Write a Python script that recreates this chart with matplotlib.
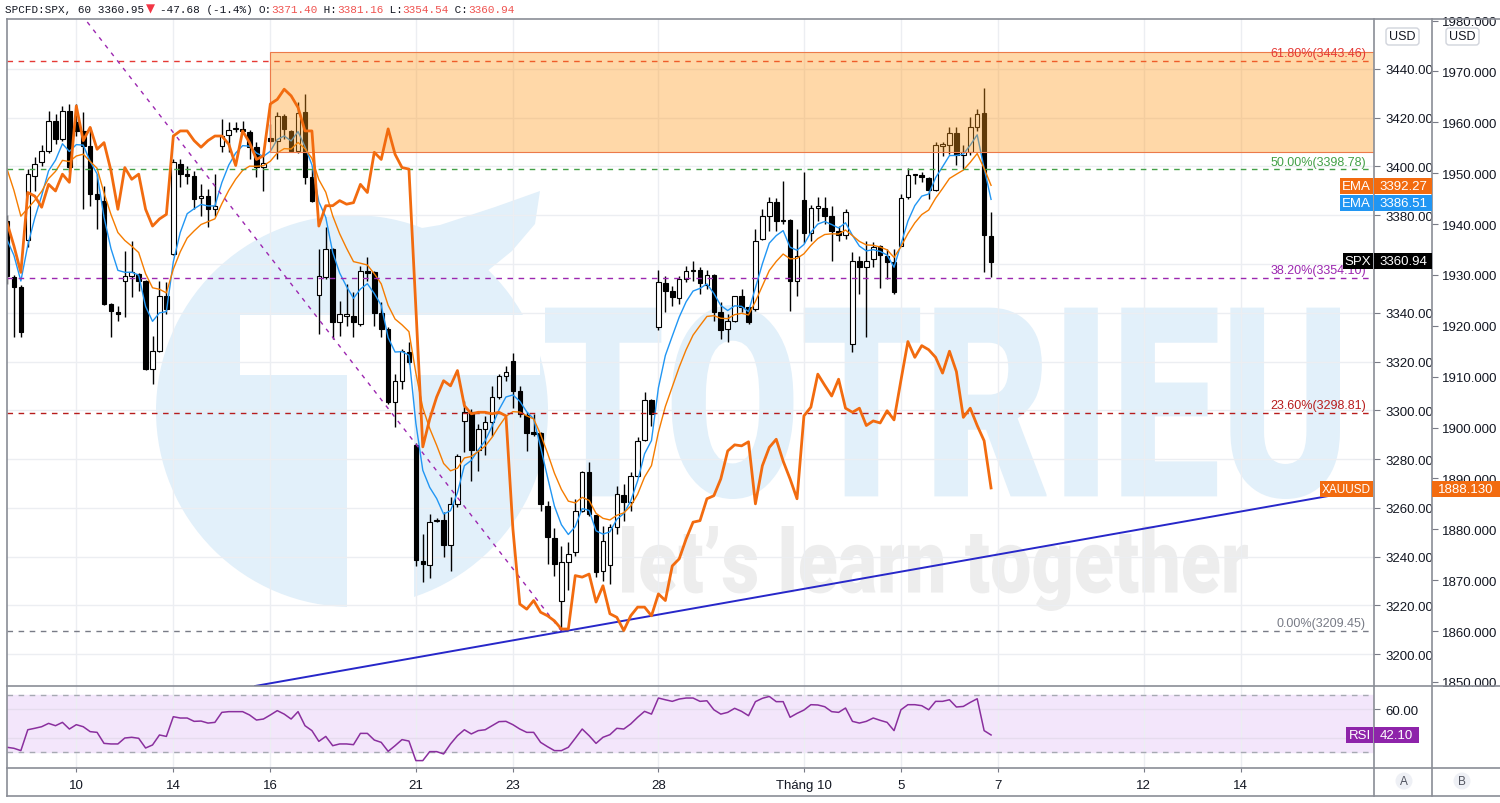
import numpy as np
import pandas as pd
import matplotlib
matplotlib.use("Agg")
import matplotlib.pyplot as plt
import matplotlib.transforms as mtransforms
from matplotlib import font_manager
from matplotlib.patches import Rectangle, Circle, Polygon, FancyBboxPatch, PathPatch
from matplotlib.lines import Line2D
from matplotlib.textpath import TextPath
from matplotlib.font_manager import FontProperties

installed = {f.name for f in font_manager.fontManager.ttflist}


def first_font(*names):
    for n in names:
        if n in installed:
            return n
    return "DejaVu Sans"


AXIS_FONT = first_font("Liberation Sans Narrow", "Liberation Sans", "Roboto")
MONO_FONT = first_font("Liberation Mono", "DejaVu Sans Mono")
plt.rcParams["font.family"] = [AXIS_FONT, "DejaVu Sans"]

# ---------------- data (SPCFD:SPX 60m, 8 Sep - 6 Oct 2020) ----------------
spx_open = [
    3377.6, 3354.7, 3350.6, 3370.0, 3396.1, 3401.8, 3406.4, 3418.7, 3411.3, 3422.8,
    3418.3, 3414.6, 3408.4, 3388.7, 3385.8, 3343.6, 3340.3, 3353.0, 3355.0, 3355.9,
    3353.0, 3316.9, 3324.3, 3346.9, 3364.1, 3401.0, 3396.9, 3396.1, 3387.0, 3388.0,
    3382.6, 3408.4, 3413.0, 3415.2, 3415.4, 3414.2, 3408.0, 3399.8, 3411.7, 3410.5,
    3420.7, 3414.6, 3406.4, 3422.4, 3395.7, 3347.3, 3354.5, 3366.2, 3336.1, 3338.8,
    3338.8, 3335.4, 3357.3, 3356.6, 3339.9, 3333.3, 3303.3, 3312.1, 3324.0, 3285.7,
    3238.3, 3236.5, 3254.5, 3255.1, 3244.7, 3261.5, 3295.7, 3299.2, 3283.8, 3292.3,
    3295.1, 3305.3, 3314.2, 3320.3, 3308.0, 3298.1, 3291.0, 3290.7, 3260.9, 3247.5,
    3221.9, 3237.9, 3241.7, 3258.8, 3274.5, 3257.0, 3234.2, 3236.5, 3252.0, 3265.4,
    3262.3, 3273.2, 3287.8, 3304.3, 3334.0, 3352.2, 3348.8, 3345.9, 3353.8, 3357.1,
    3357.7, 3351.4, 3355.5, 3340.2, 3333.3, 3336.8, 3346.7, 3342.2, 3341.5, 3370.3,
    3379.8, 3385.6, 3377.6, 3378.0, 3353.2, 3386.4, 3372.7, 3383.0, 3382.8, 3379.6,
    3373.7, 3371.9, 3327.2, 3361.4, 3358.6, 3362.1, 3367.3, 3363.4, 3360.7, 3367.5,
    3387.4, 3396.5, 3396.5, 3395.2, 3390.5, 3408.6, 3408.8, 3413.7, 3404.7, 3406.1,
    3416.1, 3421.9, 3371.40]
spx_high = [
    3380.0, 3355.5, 3351.5, 3399.0, 3404.0, 3409.0, 3422.8, 3421.5, 3424.8, 3425.6,
    3425.6, 3422.4, 3416.2, 3396.9, 3392.0, 3344.0, 3342.8, 3365.3, 3369.4, 3356.5,
    3353.5, 3330.5, 3353.0, 3352.6, 3403.0, 3403.0, 3400.2, 3398.0, 3392.8, 3390.8,
    3396.9, 3419.5, 3418.3, 3418.3, 3418.7, 3415.0, 3410.0, 3405.0, 3417.4, 3422.4,
    3421.5, 3415.0, 3426.5, 3429.7, 3399.0, 3366.2, 3375.1, 3366.5, 3344.9, 3351.8,
    3348.4, 3359.3, 3362.7, 3357.3, 3344.3, 3334.0, 3314.9, 3325.0, 3327.9, 3286.5,
    3249.2, 3257.4, 3255.7, 3258.1, 3264.3, 3282.1, 3303.9, 3300.5, 3294.4, 3297.8,
    3310.1, 3314.9, 3318.3, 3323.7, 3310.1, 3299.2, 3298.5, 3291.0, 3262.9, 3251.6,
    3244.4, 3245.8, 3263.6, 3275.2, 3278.6, 3257.2, 3252.6, 3253.3, 3269.0, 3269.7,
    3274.5, 3288.9, 3307.4, 3304.6, 3357.7, 3355.2, 3351.1, 3355.2, 3359.3, 3361.4,
    3358.6, 3357.7, 3355.8, 3344.3, 3339.5, 3346.8, 3349.7, 3342.5, 3374.4, 3382.6,
    3387.4, 3387.0, 3394.2, 3378.5, 3374.4, 3397.6, 3384.2, 3387.4, 3387.4, 3383.9,
    3375.7, 3382.6, 3364.8, 3363.4, 3369.6, 3369.2, 3367.8, 3366.2, 3366.2, 3388.7,
    3399.3, 3396.9, 3397.6, 3395.6, 3409.9, 3409.9, 3416.1, 3416.1, 3408.8, 3420.2,
    3423.6, 3432.1, 3381.16]
spx_low = [
    3352.0, 3330.0, 3330.0, 3367.0, 3390.0, 3400.0, 3405.5, 3409.2, 3410.5, 3397.7,
    3412.5, 3382.6, 3383.8, 3374.4, 3343.0, 3330.0, 3336.6, 3338.3, 3346.5, 3348.9,
    3316.5, 3310.8, 3323.8, 3339.5, 3363.6, 3391.6, 3392.8, 3382.6, 3379.7, 3375.2,
    3379.7, 3406.0, 3406.0, 3414.2, 3413.3, 3403.0, 3395.7, 3390.0, 3410.0, 3403.0,
    3411.3, 3406.0, 3405.5, 3392.8, 3385.4, 3331.3, 3354.0, 3329.2, 3330.6, 3334.7,
    3329.9, 3334.7, 3353.2, 3334.7, 3329.9, 3302.5, 3293.0, 3308.7, 3319.0, 3236.2,
    3229.4, 3231.1, 3254.0, 3239.7, 3234.2, 3260.2, 3283.0, 3271.1, 3275.2, 3281.6,
    3289.6, 3304.6, 3312.1, 3300.8, 3297.1, 3283.4, 3289.6, 3258.8, 3236.9, 3232.1,
    3209.45, 3226.4, 3240.3, 3258.1, 3256.8, 3231.5, 3230.1, 3228.7, 3249.2, 3254.7,
    3258.8, 3272.5, 3287.5, 3293.7, 3333.0, 3340.2, 3342.9, 3343.6, 3352.5, 3353.2,
    3347.7, 3349.7, 3336.8, 3329.2, 3327.9, 3336.1, 3340.2, 3335.4, 3340.9, 3370.0,
    3373.7, 3373.7, 3376.5, 3340.8, 3347.0, 3368.6, 3369.6, 3377.8, 3376.4, 3361.4,
    3369.6, 3370.3, 3324.0, 3347.7, 3329.9, 3358.6, 3350.0, 3353.8, 3347.7, 3367.3,
    3386.7, 3392.8, 3393.5, 3386.7, 3390.1, 3404.4, 3405.1, 3400.6, 3399.0, 3404.7,
    3414.7, 3356.6, 3354.54]
spx_close = [
    3355.0, 3350.6, 3332.0, 3397.0, 3401.0, 3406.4, 3418.7, 3411.3, 3422.8, 3399.8,
    3414.6, 3408.4, 3388.7, 3386.7, 3343.6, 3340.7, 3339.5, 3355.0, 3356.7, 3353.0,
    3316.9, 3324.3, 3346.9, 3341.5, 3401.8, 3396.9, 3396.1, 3386.7, 3388.0, 3382.6,
    3383.8, 3412.5, 3415.0, 3415.4, 3414.6, 3408.0, 3399.8, 3401.4, 3410.5, 3420.7,
    3415.4, 3406.4, 3422.0, 3395.7, 3385.8, 3355.2, 3366.2, 3336.1, 3339.5, 3339.5,
    3336.4, 3357.3, 3356.3, 3339.9, 3333.3, 3303.3, 3312.1, 3324.4, 3319.7, 3238.7,
    3236.9, 3254.3, 3254.7, 3244.7, 3261.5, 3281.1, 3299.4, 3283.8, 3292.3, 3295.1,
    3305.3, 3313.9, 3315.8, 3308.0, 3298.5, 3290.7, 3290.8, 3261.5, 3247.9, 3236.9,
    3237.9, 3241.0, 3258.8, 3274.5, 3257.4, 3233.8, 3246.5, 3252.0, 3265.6, 3262.3,
    3273.2, 3287.5, 3304.3, 3298.5, 3352.5, 3349.0, 3346.3, 3353.8, 3357.1, 3357.7,
    3352.2, 3355.5, 3340.2, 3333.0, 3336.8, 3346.7, 3342.2, 3336.1, 3369.6, 3379.8,
    3385.6, 3377.8, 3377.8, 3353.2, 3363.2, 3372.7, 3383.0, 3383.1, 3379.6, 3373.7,
    3371.9, 3381.2, 3361.4, 3358.6, 3361.4, 3366.9, 3363.7, 3360.7, 3348.7, 3387.0,
    3396.5, 3396.7, 3395.6, 3390.5, 3408.8, 3408.8, 3413.7, 3404.7, 3406.1, 3416.1,
    3421.5, 3371.9, 3360.94]
# XAUUSD overlay (right-most scale)
gold_close = [
    1940.3, 1935.7, 1930.5, 1946.2, 1945.5, 1943.3, 1947.8, 1946.5, 1949.8, 1948.2,
    1963.2, 1956.4, 1959.0, 1954.7, 1956.0, 1950.5, 1942.9, 1951.1, 1948.8, 1949.8,
    1942.9, 1939.6, 1941.0, 1941.9, 1957.3, 1958.3, 1958.3, 1956.4, 1955.1, 1956.4,
    1957.3, 1957.3, 1955.7, 1951.5, 1958.3, 1956.0, 1952.7, 1953.4, 1963.6, 1964.5,
    1966.5, 1965.2, 1962.9, 1958.3, 1958.3, 1939.6, 1943.6, 1943.6, 1944.6, 1943.9,
    1944.2, 1947.8, 1946.2, 1954.1, 1952.7, 1958.7, 1953.7, 1951.1, 1950.8, 1923.3,
    1896.2, 1901.7, 1906.0, 1909.2, 1908.2, 1911.2, 1904.3, 1902.7, 1903.0, 1903.0,
    1902.7, 1903.0, 1902.3, 1880.1, 1865.3, 1864.3, 1866.0, 1863.7, 1863.0, 1862.0,
    1860.4, 1860.4, 1870.9, 1870.6, 1871.2, 1865.7, 1868.9, 1863.4, 1862.7, 1860.1,
    1863.0, 1864.7, 1864.7, 1863.0, 1867.3, 1866.0, 1872.8, 1874.2, 1878.1, 1881.4,
    1881.7, 1886.0, 1886.6, 1889.9, 1895.4, 1896.6, 1896.4, 1897.2, 1885.0, 1892.5,
    1896.1, 1897.7, 1893.4, 1889.9, 1886.0, 1902.3, 1904.0, 1910.5, 1908.3, 1906.2,
    1909.5, 1903.8, 1903.0, 1903.8, 1900.4, 1901.3, 1900.9, 1903.3, 1901.5, 1909.3,
    1916.9, 1913.8, 1916.1, 1915.3, 1913.8, 1910.7, 1915.0, 1911.0, 1902.0, 1903.8,
    1900.4, 1897.4, 1888.13]
rsi_values = [
    33.6, 32.9, 31.3, 45.7, 46.7, 47.8, 50.1, 48.5, 50.8, 46.2,
    49.2, 47.8, 44.4, 43.9, 36.3, 35.9, 35.9, 40.0, 40.5, 39.8,
    33.1, 35.2, 42.1, 41.1, 54.7, 53.8, 53.8, 51.5, 51.7, 50.3,
    50.8, 57.7, 58.2, 58.2, 58.2, 55.9, 52.4, 53.1, 55.9, 58.9,
    56.5, 53.1, 58.2, 48.5, 45.1, 37.7, 41.1, 34.7, 35.9, 35.9,
    35.4, 43.2, 43.2, 38.6, 37.0, 30.8, 34.7, 38.9, 37.9, 24.4,
    24.4, 30.6, 30.6, 29.0, 35.9, 41.6, 45.7, 42.8, 45.1, 45.7,
    48.5, 51.3, 51.5, 49.2, 46.2, 43.9, 43.9, 37.0, 34.0, 31.3,
    31.3, 33.6, 39.8, 46.2, 41.6, 36.3, 40.5, 42.3, 46.7, 46.2,
    49.7, 54.3, 58.4, 56.5, 67.6, 66.4, 65.3, 66.9, 67.6, 67.6,
    65.3, 65.7, 59.5, 56.5, 57.7, 60.5, 58.4, 55.4, 65.1, 67.4,
    68.7, 65.1, 65.1, 54.3, 57.0, 59.3, 63.0, 62.8, 61.6, 58.2,
    57.7, 60.7, 51.5, 50.3, 51.5, 53.8, 52.2, 50.8, 45.1, 59.5,
    63.0, 63.0, 62.3, 59.5, 65.3, 65.3, 66.4, 61.4, 61.8, 64.6,
    67.1, 45.1, 42.1]
for arr in (spx_open, spx_high, spx_low, spx_close, gold_close, rsi_values):
    assert len(arr) == 143, len(arr)

ema_fast_len, ema_slow_len = 5, 10
ema_fast_start, ema_slow_start = 3370.0, 3399.0   # EMA values at the first visible bar

day_ticks = [0, 14, 28, 49, 63, 84, 105, 119, 133, 154, 168]   # hourly bar index, 7 bars/day
day_labels = ["10", "14", "16", "21", "23", "28", "Tháng 10", "5", "7", "12", "14"]

fib_levels = [3443.46, 3398.78, 3354.10, 3298.81, 3209.45]
fib_names = ["61.80%", "50.00%", "38.20%", "23.60%", "0.00%"]
fib_colors = ["#e53935", "#43a047", "#9c27b0", "#b71c1c", "#787b86"]

zone_start, zone_low, zone_high = 28, 3405.9, 3446.9
fib_trend_x, fib_trend_y = [-33.7, 70], [3588.1, 3209.45]
support_x, support_y = [25.8, 180.6], [3186.9, 3264.8]

spx_ticks = list(range(3200, 3460, 20))
gold_ticks = list(range(1850, 1990, 10))

# ---------------- figure ----------------
W, H = 1500, 804
fig = plt.figure(figsize=(W / 100, H / 100), dpi=100)
PX = mtransforms.Affine2D().scale(1 / W, -1 / H).translate(0, 1) + fig.transFigure


def frac(x0, y0, x1, y1):
    return [x0 / W, 1 - y1 / H, (x1 - x0) / W, (y1 - y0) / H]


ax = fig.add_axes(frac(7, 20, 1374, 687))
ax_rsi = fig.add_axes(frac(7, 687, 1374, 769), sharex=ax)
ax_gold = ax.twinx()

bars = np.arange(len(spx_close)) - 10
o = np.array(spx_open); h = np.array(spx_high); lo = np.array(spx_low); c = np.array(spx_close)

GRID = "#eceef2"
DARK = "#131722"
WM_BLUE = "#e2f0fa"
WM_GREY = "#ededed"

# watermark (logo + text) in pixel coordinates
ax.add_patch(Circle((352, 412), 196, transform=PX, facecolor=WM_BLUE, edgecolor="none", zorder=0.2))
ax.add_patch(Polygon([(300, 232), (380, 236), (440, 226), (495, 208), (540, 192),
                      (535, 225), (512, 252), (480, 278), (440, 300), (300, 300)],
                     closed=True, transform=PX, facecolor=WM_BLUE, edgecolor="none", zorder=0.2))
ax.add_patch(Rectangle((240, 316), 300, 60, transform=PX, facecolor="white", edgecolor="none", zorder=0.25))
ax.add_patch(Rectangle((347, 376), 67, 240, transform=PX, facecolor="white", edgecolor="none", zorder=0.25))


def fit_text(s, box, color, prop):
    tp = TextPath((0, 0), s, size=100, prop=prop)
    bb = tp.get_extents()
    x0, y0, x1, y1 = box
    tr = (mtransforms.Affine2D().translate(-bb.x0, -bb.y0)
          .scale((x1 - x0) / bb.width, -(y1 - y0) / bb.height)
          .translate(x0, y1) + PX)
    ax.add_patch(PathPatch(tp, transform=tr, facecolor=color, edgecolor="none", zorder=0.3))


heavy = FontProperties(family=["Roboto", "DejaVu Sans"], weight="black")
fit_text("TOTRIEU", (545, 306, 1340, 500), WM_BLUE, heavy)
fit_text("let\u2019s learn together", (622, 527, 1248, 612), WM_GREY, heavy)

# grid
for p in spx_ticks:
    ax.axhline(p, color=GRID, lw=1, zorder=0.5)
for t in day_ticks:
    ax.axvline(t, color=GRID, lw=1, zorder=0.5)
    ax_rsi.axvline(t, color=GRID, lw=1, zorder=0.5)

# candles
up = c >= o
body = c - o
body = np.where(np.abs(body) < 0.6, np.where(body >= 0, 0.6, -0.6), body)
ax.vlines(bars, lo, h, color="black", lw=1, zorder=3)
ax.bar(bars, body, bottom=o, width=0.66, color=np.where(up, "white", "black"),
       edgecolor="black", linewidth=0.8, zorder=4)

# EMAs
fast_in = pd.Series(c.copy()); fast_in.iloc[0] = ema_fast_start
slow_in = pd.Series(c.copy()); slow_in.iloc[0] = ema_slow_start
ema_fast = fast_in.ewm(span=ema_fast_len, adjust=False).mean()
ema_slow = slow_in.ewm(span=ema_slow_len, adjust=False).mean()
ax.plot(bars, ema_fast, color="#2196f3", lw=1, zorder=5)
ax.plot(bars, ema_slow, color="#f57c00", lw=1, zorder=5)

# fib retracement
for lev, name, col in zip(fib_levels, fib_names, fib_colors):
    ax.axhline(lev, color=col, lw=1, ls=(0, (4, 4)), zorder=6)
    ax.text(186.1, lev + 0.8, f"{name}({lev:.2f})", color=col, ha="right", va="bottom",
            fontsize=9, zorder=9)
ax.plot(fib_trend_x, fib_trend_y, color="#9c27b0", lw=1, ls=(0, (3, 4)), zorder=6)

# resistance zone
ax.add_patch(Rectangle((zone_start, zone_low), 400, zone_high - zone_low,
                       facecolor=(1.0, 0.6, 0.1, 0.38), edgecolor="#ec7a4a", lw=0.8, zorder=7))

# support line
ax.plot(support_x, support_y, color="#2727c9", lw=1.4, zorder=8)

ax.set_xlim(-10.0, 187.26)
ax.set_ylim(3186.9, 3460.5)
ax.set_yticks(spx_ticks)
# the 3360 tick sits under the SPX last-price tag, as on the original chart
ax.set_yticklabels(["" if v == 3360 else f"{v:.2f}" for v in spx_ticks])
ax.yaxis.tick_right()
ax.tick_params(axis="y", direction="out", length=4, width=0.8, color="#787b86",
               labelcolor=DARK, labelsize=9.5, pad=4)
ax.tick_params(axis="x", bottom=False, labelbottom=False)
for s in ax.spines.values():
    s.set_visible(False)

# gold overlay
ax_gold.plot(bars, gold_close, color="#f26b0f", lw=2, zorder=6)
ax_gold.set_ylim(1849.2, 1980.3)
ax_gold.set_yticks(gold_ticks)
ax_gold.set_yticklabels([f"{v:.3f}" for v in gold_ticks])
ax_gold.spines["right"].set_position(("outward", 58 * 0.72))   # 58 px in points
for s in ax_gold.spines.values():
    s.set_visible(False)
ax_gold.tick_params(axis="y", direction="out", length=4, width=0.8, color="#787b86",
                    labelcolor=DARK, labelsize=9.5, pad=3)

# RSI pane
ax_rsi.axhspan(30, 70, color="#f3e6fb", zorder=0.1)
for lev in (70, 30):
    ax_rsi.axhline(lev, color="#a6a9b2", lw=1, ls=(0, (4, 4)), zorder=1)
for lev in (60, 40):
    ax_rsi.axhline(lev, color="#e6dcee", lw=1, zorder=0.6)
ax_rsi.plot(bars, rsi_values, color="#8a2f9e", lw=1.1, zorder=3)
ax_rsi.set_ylim(19.3, 75.9)
ax_rsi.set_yticks([60])
ax_rsi.set_yticklabels(["60.00"])
ax_rsi.yaxis.tick_right()
ax_rsi.tick_params(axis="y", direction="out", length=4, width=0.8, color="#787b86",
                   labelcolor=DARK, labelsize=9.5, pad=4)
ax_rsi.set_xticks(day_ticks)
ax_rsi.set_xticklabels(day_labels)
ax_rsi.tick_params(axis="x", direction="out", length=3, width=0.8, color="#787b86",
                   labelcolor=DARK, labelsize=9.5, pad=5)
for s in ax_rsi.spines.values():
    s.set_visible(False)

# frame lines
FRAME = "#8a8d96"
for xs, ys in [([6.5, 6.5], [20, 797]), ([1374, 1374], [20, 797]), ([1432, 1432], [20, 797]),
               ([6.5, W], [20, 20]), ([6.5, W], [687, 687]), ([6.5, W], [769, 769]),
               ([6.5, W], [797, 797])]:
    fig.add_artist(Line2D(xs, ys, transform=PX, color=FRAME, lw=1.2, zorder=15))


def ptext(x, y, s, **kw):
    return fig.text(x / W, 1 - y / H, s, **kw)


def label_box(x0, y0, x1, y1, color, text, tcolor="white", size=9.5):
    fig.add_artist(Rectangle((x0, y0), x1 - x0, y1 - y0, transform=PX, facecolor=color,
                             edgecolor="none", zorder=20))
    ptext((x0 + x1) / 2, (y0 + y1) / 2, text, color=tcolor, ha="center", va="center",
          fontsize=size, zorder=21)


ORANGE = "#f26b0f"
label_box(1340, 179, 1373, 195, ORANGE, "EMA")
label_box(1374, 179, 1432, 195, ORANGE, f"{ema_slow.iloc[-1]:.2f}")
label_box(1340, 196, 1373, 212, "#2196f3", "EMA")
label_box(1374, 196, 1432, 212, "#2196f3", f"{ema_fast.iloc[-1]:.2f}")
label_box(1343, 254, 1373, 270, "black", "SPX")
label_box(1374, 254, 1432, 270, "black", f"{spx_close[-1]:.2f}")
label_box(1320, 482, 1373, 498, ORANGE, "XAUUSD", size=8.5)
label_box(1432, 482, 1500, 498, ORANGE, f"{gold_close[-1]:.3f}")
label_box(1346, 728, 1373, 744, "#8e24aa", "RSI")
label_box(1374, 728, 1419, 744, "#8e24aa", f"{rsi_values[-1]:.2f}")

for x0 in (1386, 1446):
    fig.add_artist(FancyBboxPatch((x0, 29), 33, 17, boxstyle="round,pad=0,rounding_size=3",
                                  transform=PX, facecolor="white", edgecolor="#d1d4dc",
                                  lw=1, zorder=20))
    ptext(x0 + 16.5, 37.5, "USD", color=DARK, ha="center", va="center", fontsize=9, zorder=21)
for xc, s in ((1404, "A"), (1462, "B")):
    fig.add_artist(Circle((xc, 782), 8.5, transform=PX, facecolor="#eef0f5",
                          edgecolor="none", zorder=20))
    ptext(xc, 782, s, color="#50535e", ha="center", va="center", fontsize=8.5, zorder=21)

# header
RED = "#ef5350"
pitch = 6.55
ptext(5, 10, "SPCFD:SPX, 60 3360.95", color=DARK, family=MONO_FONT, fontsize=7.9,
      ha="left", va="center")
ptext(146, 9, "\u25bc", color="#f23645", family="DejaVu Sans", fontsize=8.5,
      ha="left", va="center")
x = 160
for s, col in [("-47.68 (-1.4%) ", DARK), ("O:", DARK), ("3371.40", RED), (" H:", DARK),
               ("3381.16", RED), (" L:", DARK), ("3354.54", RED), (" C:", DARK),
               ("3360.94", RED)]:
    ptext(x, 10, s, color=col, family=MONO_FONT, fontsize=7.9, ha="left", va="center")
    x += len(s) * pitch

fig.savefig("out.png", dpi=100, facecolor="white")
